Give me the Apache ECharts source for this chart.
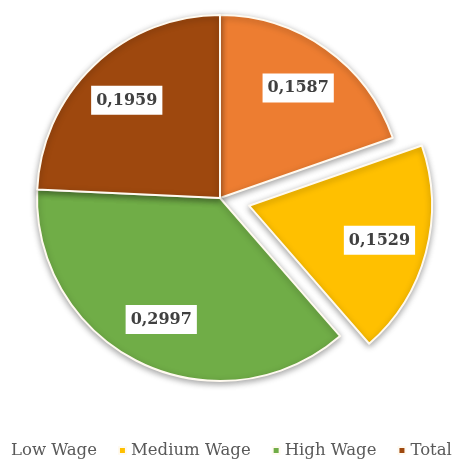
<!DOCTYPE html>
<html>
<head>
<meta charset="utf-8">
<script src="https://cdn.jsdelivr.net/npm/echarts@6/dist/echarts.min.js"></script>
<style>
html,body{margin:0;padding:0;background:#fff;}
#chart{width:456px;height:464px;}
</style>
</head>
<body>
<div id="chart"></div>
<script>
const categories = ['Low Wage', 'Medium Wage', 'High Wage', 'Total'];
const values = [0.1587, 0.1529, 0.2997, 0.1959];
const colors = ['#ED7D31', '#FFC000', '#70AD47', '#9E480E'];
const explodedCategory = 'Medium Wage';

const chart = echarts.init(document.getElementById('chart'), null, {renderer: 'canvas'});

function pieData(withColor) {
  return categories.map((name, i) => ({
    name: name,
    value: values[i],
    selected: name === explodedCategory,
    itemStyle: withColor ? {color: colors[i]} : {color: 'rgba(0,0,0,0)', borderWidth: 0, shadowBlur: 0}
  }));
}

const option = {
  backgroundColor: '#ffffff',
  animation: false,
  legend: {
    bottom: 0,
    left: -7,
    width: 490,
    itemWidth: 7,
    itemHeight: 7,
    itemGap: 21,
    icon: 'rect',
    textStyle: {fontFamily: 'DejaVu Serif', fontSize: 16.5, color: '#595959'},
    data: categories.map((name, i) => i === 0 ? {name: name, itemStyle: {opacity: 0}} : {name: name})
  },
  series: [
    {
      type: 'pie',
      center: [220, 198],
      radius: [0, 183],
      startAngle: 90,
      clockwise: true,
      selectedMode: 'single',
      selectedOffset: 30,
      avoidLabelOverlap: false,
      label: {show: false},
      labelLine: {show: false},
      emphasis: {disabled: true},
      itemStyle: {
        borderColor: '#fffaf0',
        borderWidth: 2,
        shadowBlur: 6,
        shadowColor: 'rgba(0,0,0,0.35)',
        shadowOffsetY: 2
      },
      data: pieData(true)
    },
    {
      type: 'pie',
      center: [220, 198],
      radius: [81, 183],
      startAngle: 90,
      clockwise: true,
      selectedMode: 'single',
      selectedOffset: 30,
      silent: true,
      avoidLabelOverlap: false,
      z: 5,
      labelLine: {show: false},
      label: {
        show: true,
        position: 'inside',
        formatter: p => p.value.toFixed(4).replace('.', ','),
        backgroundColor: '#ffffff',
        padding: [6, 5, 6, 5],
        lineHeight: 17,
        fontFamily: 'DejaVu Serif',
        fontWeight: 'bold',
        fontSize: 16,
        color: '#404040'
      },
      data: pieData(false)
    }
  ]
};
chart.setOption(option);
</script>
</body>
</html>
